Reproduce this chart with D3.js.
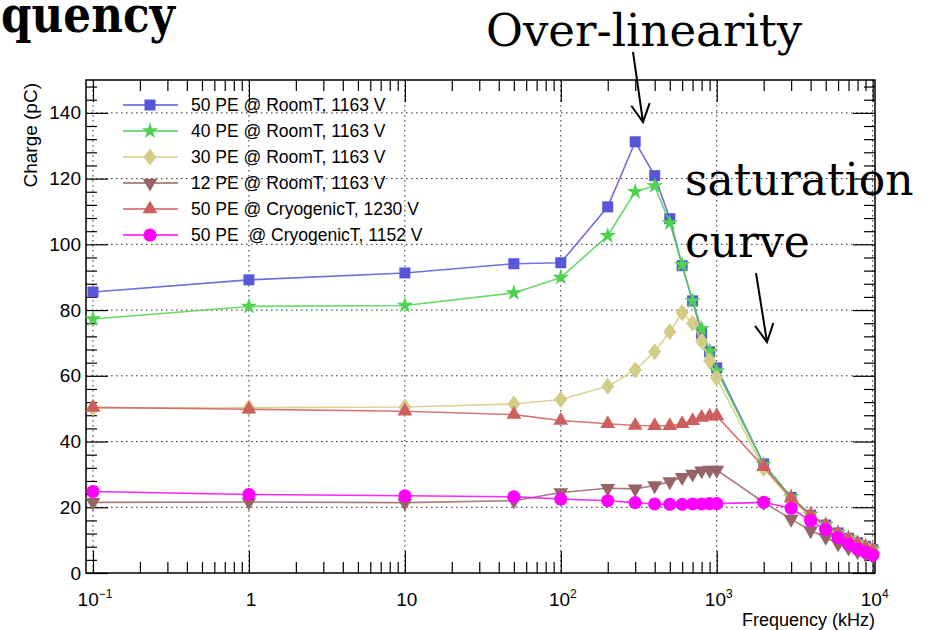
<!DOCTYPE html>
<html>
<head>
<meta charset="utf-8">
<script src="https://cdn.jsdelivr.net/npm/d3@7"></script>
<style>
    body { margin: 0; background: #fff; }
    svg { display: block; }
    text { font-family: "Liberation Sans", Arial, sans-serif; fill: #000; }
    .serif { font-family: "DejaVu Serif", serif; }
    .grid line { stroke: #333; stroke-width: 1; stroke-dasharray: 1.6,3.4; }
    .axis line { stroke: #000; stroke-width: 1.2; }
    .axis path { display: none; }
</style>
</head>
<body>
<svg id="chart" width="930" height="630"></svg>
<script>
"use strict";

// frequency points (kHz), shared by all series
var frequencies = [0.1, 1, 10, 50, 100, 200, 300, 400, 500, 600, 700, 800, 900, 1000,
    2000, 3000, 4000, 5000, 6000, 7000, 8000, 9000, 10000];

// charge (pC)
var pe50Room = [85.5, 89.2, 91.3, 94.1, 94.4, 111.4, 131.2, 120.9, 107.8, 93.5, 82.8, 72.8, 67.3, 62.4,
    33.2, 23.0, 17.6, 14.6, 12.2, 10.6, 9.2, 8.1, 7.1];
var pe40Room = [77.3, 81.1, 81.4, 85.2, 89.9, 102.6, 116.0, 117.8, 106.5, 93.8, 82.8, 74.3, 67.5, 61.5,
    33.0, 23.2, 17.8, 14.7, 12.3, 10.7, 9.3, 8.2, 7.2];
var pe30Room = [50.2, 50.3, 50.5, 51.4, 52.8, 56.8, 61.8, 67.3, 73.4, 79.2, 76.0, 70.6, 64.6, 59.3,
    31.8, 22.3, 17.2, 14.2, 11.9, 10.3, 9.0, 7.9, 6.9];
var pe12Room = [21.5, 21.6, 21.4, 22.0, 24.5, 25.8, 25.6, 26.6, 27.8, 29.1, 30.1, 31.1, 31.3, 31.3,
    21.5, 16.4, 12.9, 10.9, 8.9, 7.6, 6.5, 5.8, 5.2];
var pe50Cryo1230 = [50.4, 49.8, 49.2, 48.2, 46.4, 45.4, 44.9, 44.8, 44.8, 45.4, 46.3, 47.3, 47.7, 47.8,
    32.3, 22.8, 17.6, 14.5, 12.0, 10.4, 9.0, 7.9, 6.9];
var pe50Cryo1152 = [24.8, 23.9, 23.5, 23.2, 22.5, 22.0, 21.4, 21.0, 20.9, 20.9, 21.0, 21.0, 21.1, 21.1,
    21.5, 19.7, 15.9, 13.2, 10.8, 8.8, 7.3, 6.3, 5.4];

var seriesNames = [
    "50 PE @ RoomT, 1163 V",
    "40 PE @ RoomT, 1163 V",
    "30 PE @ RoomT, 1163 V",
    "12 PE @ RoomT, 1163 V",
    "50 PE @ CryogenicT, 1230 V",
    "50 PE  @ CryogenicT, 1152 V"
];
var seriesValues = [pe50Room, pe40Room, pe30Room, pe12Room, pe50Cryo1230, pe50Cryo1152];
var seriesColors = ["#5656d8", "#4fd24f", "#d3cb86", "#966466", "#cf5f5f", "#ff00ff"];
var seriesMarkers = ["square", "star", "diamond", "triangleDown", "triangleUp", "circle"];

var yTicks = [0, 20, 40, 60, 80, 100, 120, 140];
var xDecades = [0.1, 1, 10, 100, 1000, 10000];
var xTickLabels = [["10", "\u22121"], ["1", ""], ["10", ""], ["10", "2"], ["10", "3"], ["10", "4"]];

(function () {
    var svg = d3.select("#chart");
    var pLeft = 86, pRight = 875, pTop = 80, pBottom = 573;

    var x = d3.scaleLog().domain([0.0902, 10350]).range([pLeft, pRight]);
    var y = d3.scaleLinear().domain([0, 150]).range([pBottom, pTop]);

    var xMinor = [];
    xDecades.forEach(function (d) {
        for (var k = 2; k < 10; k++) {
            var v = d * k;
            if (v < x.domain()[1]) xMinor.push(v);
        }
    });
    var yMinor = d3.range(0, 150, 4).filter(function (v) { return v % 20 !== 0; });

    // grid
    var grid = svg.append("g").attr("class", "grid");
    grid.selectAll(".gx").data(xDecades).enter().append("line")
        .attr("class", "gx")
        .attr("x1", function (d) { return x(d); })
        .attr("x2", function (d) { return x(d); })
        .attr("y1", pTop)
        .attr("y2", pBottom)
    ;
    grid.selectAll(".gy").data(yTicks.slice(1)).enter().append("line")
        .attr("class", "gy")
        .attr("x1", pLeft)
        .attr("x2", pRight)
        .attr("y1", function (d) { return y(d); })
        .attr("y2", function (d) { return y(d); })
    ;

    // ticks on all four sides, pointing inwards
    function addAxis(axis, tx, ty) {
        return svg.append("g")
            .attr("class", "axis")
            .attr("transform", "translate(" + tx + "," + ty + ")")
            .call(axis)
        ;
    }
    addAxis(d3.axisBottom(x).tickValues(xDecades).tickSizeInner(-22).tickSizeOuter(0).tickFormat(""), 0, pBottom);
    addAxis(d3.axisBottom(x).tickValues(xMinor).tickSizeInner(-11).tickSizeOuter(0).tickFormat(""), 0, pBottom);
    addAxis(d3.axisTop(x).tickValues(xDecades).tickSizeInner(-22).tickSizeOuter(0).tickFormat(""), 0, pTop);
    addAxis(d3.axisTop(x).tickValues(xMinor).tickSizeInner(-11).tickSizeOuter(0).tickFormat(""), 0, pTop);
    addAxis(d3.axisRight(y).tickValues(yTicks).tickSizeInner(-22).tickSizeOuter(0).tickFormat(""), pRight, 0);
    addAxis(d3.axisRight(y).tickValues(yMinor).tickSizeInner(-11).tickSizeOuter(0).tickFormat(""), pRight, 0);
    addAxis(d3.axisLeft(y).tickValues(yMinor).tickSizeInner(-11).tickSizeOuter(0).tickFormat(""), pLeft, 0);
    addAxis(d3.axisLeft(y).tickValues(yTicks).tickSizeInner(-22).tickSizeOuter(0).tickPadding(5), pLeft, 0)
        .selectAll("text")
            .attr("fill", "#000")
            .style("font-size", "19px")
            .style("font-family", "'Liberation Sans', Arial, sans-serif")
    ;

    // x labels with exponents
    var xl = svg.append("g").selectAll("text").data(xDecades).enter().append("text")
        .attr("x", function (d) { return x(d) + 2; })
        .attr("y", 606)
        .attr("text-anchor", "middle")
        .style("font-size", "19px")
    ;
    xl.append("tspan").text(function (d, i) { return xTickLabels[i][0]; });
    xl.append("tspan")
        .attr("dy", -8)
        .style("font-size", "12px")
        .text(function (d, i) { return xTickLabels[i][1]; })
    ;

    svg.append("rect")
        .attr("x", pLeft).attr("y", pTop)
        .attr("width", pRight - pLeft).attr("height", pBottom - pTop)
        .attr("fill", "none")
        .attr("stroke", "#000")
        .attr("stroke-width", 1.5)
    ;

    svg.append("text")
        .attr("x", pRight)
        .attr("y", 626)
        .attr("text-anchor", "end")
        .style("font-size", "18px")
        .text("Frequency (kHz)")
    ;
    svg.append("text")
        .attr("transform", "translate(37," + (pTop + 3) + ")rotate(-90)")
        .attr("text-anchor", "end")
        .style("font-size", "19px")
        .text("Charge (pC)")
    ;

    // markers
    function markerPath(kind) {
        if (kind === "diamond") return "M0,-8.5L6.5,0L0,8.5L-6.5,0Z";
        var types = {
            square: [d3.symbolSquare, 121],
            star: [d3.symbolStar, 85],
            triangleUp: [d3.symbolTriangle, 95],
            triangleDown: [d3.symbolTriangle, 95],
            circle: [d3.symbolCircle, 135]
        };
        return d3.symbol().type(types[kind][0]).size(types[kind][1])();
    }
    function markerTransform(kind, px, py) {
        return "translate(" + px + "," + py + ")" + (kind === "triangleDown" ? "rotate(180)" : "");
    }

    var line = d3.line()
        .x(function (d) { return x(d[0]); })
        .y(function (d) { return y(d[1]); })
    ;

    seriesValues.forEach(function (vals, i) {
        var pts = frequencies.map(function (f, j) { return [f, vals[j]]; });
        var g = svg.append("g");
        g.append("path")
            .attr("d", line(pts))
            .attr("fill", "none")
            .attr("stroke", seriesColors[i])
            .attr("stroke-opacity", 0.85)
            .attr("stroke-width", 1.6)
        ;
        g.selectAll(".mk").data(pts).enter().append("path")
            .attr("class", "mk")
            .attr("d", markerPath(seriesMarkers[i]))
            .attr("transform", function (d) { return markerTransform(seriesMarkers[i], x(d[0]), y(d[1])); })
            .attr("fill", seriesColors[i])
        ;
    });

    // legend
    var rows = svg.append("g").selectAll("g").data(seriesNames).enter().append("g")
        .attr("transform", function (d, i) { return "translate(0," + (105 + i * 26) + ")"; })
    ;
    rows.append("line")
        .attr("x1", 123).attr("x2", 178)
        .attr("stroke", function (d, i) { return seriesColors[i]; })
        .attr("stroke-width", 1.6)
    ;
    rows.append("path")
        .attr("d", function (d, i) { return markerPath(seriesMarkers[i]); })
        .attr("transform", function (d, i) { return markerTransform(seriesMarkers[i], 150, 0); })
        .attr("fill", function (d, i) { return seriesColors[i]; })
    ;
    rows.append("text")
        .attr("x", 191)
        .attr("y", 6)
        .style("font-size", "17.5px")
        .style("white-space", "pre")
        .text(function (d) { return d; })
    ;

    // slide annotations
    svg.append("text")
        .attr("class", "serif")
        .attr("x", 1).attr("y", 32)
        .attr("textLength", 174)
        .attr("lengthAdjust", "spacingAndGlyphs")
        .style("font-size", "50px")
        .style("font-weight", "bold")
        .text("quency")
    ;
    svg.append("text").attr("class", "serif").attr("x", 486).attr("y", 46).style("font-size", "45px").text("Over-linearity");
    svg.append("text").attr("class", "serif").attr("x", 685).attr("y", 195).style("font-size", "44px").text("saturation");
    svg.append("text").attr("class", "serif").attr("x", 685).attr("y", 257).style("font-size", "44px").text("curve");

    function arrow(x1, y1, x2, y2) {
        var a = Math.atan2(y2 - y1, x2 - x1), len = 20, spread = 0.48;
        var p = "M" + x1 + "," + y1 + "L" + x2 + "," + y2
            + "M" + (x2 - len * Math.cos(a - spread)) + "," + (y2 - len * Math.sin(a - spread))
            + "L" + x2 + "," + y2
            + "L" + (x2 - len * Math.cos(a + spread)) + "," + (y2 - len * Math.sin(a + spread));
        svg.append("path")
            .attr("d", p)
            .attr("fill", "none")
            .attr("stroke", "#000")
            .attr("stroke-width", 2)
        ;
    }
    arrow(633, 52, 643, 122);
    arrow(756, 273, 767, 342);
})();
</script>
</body>
</html>
